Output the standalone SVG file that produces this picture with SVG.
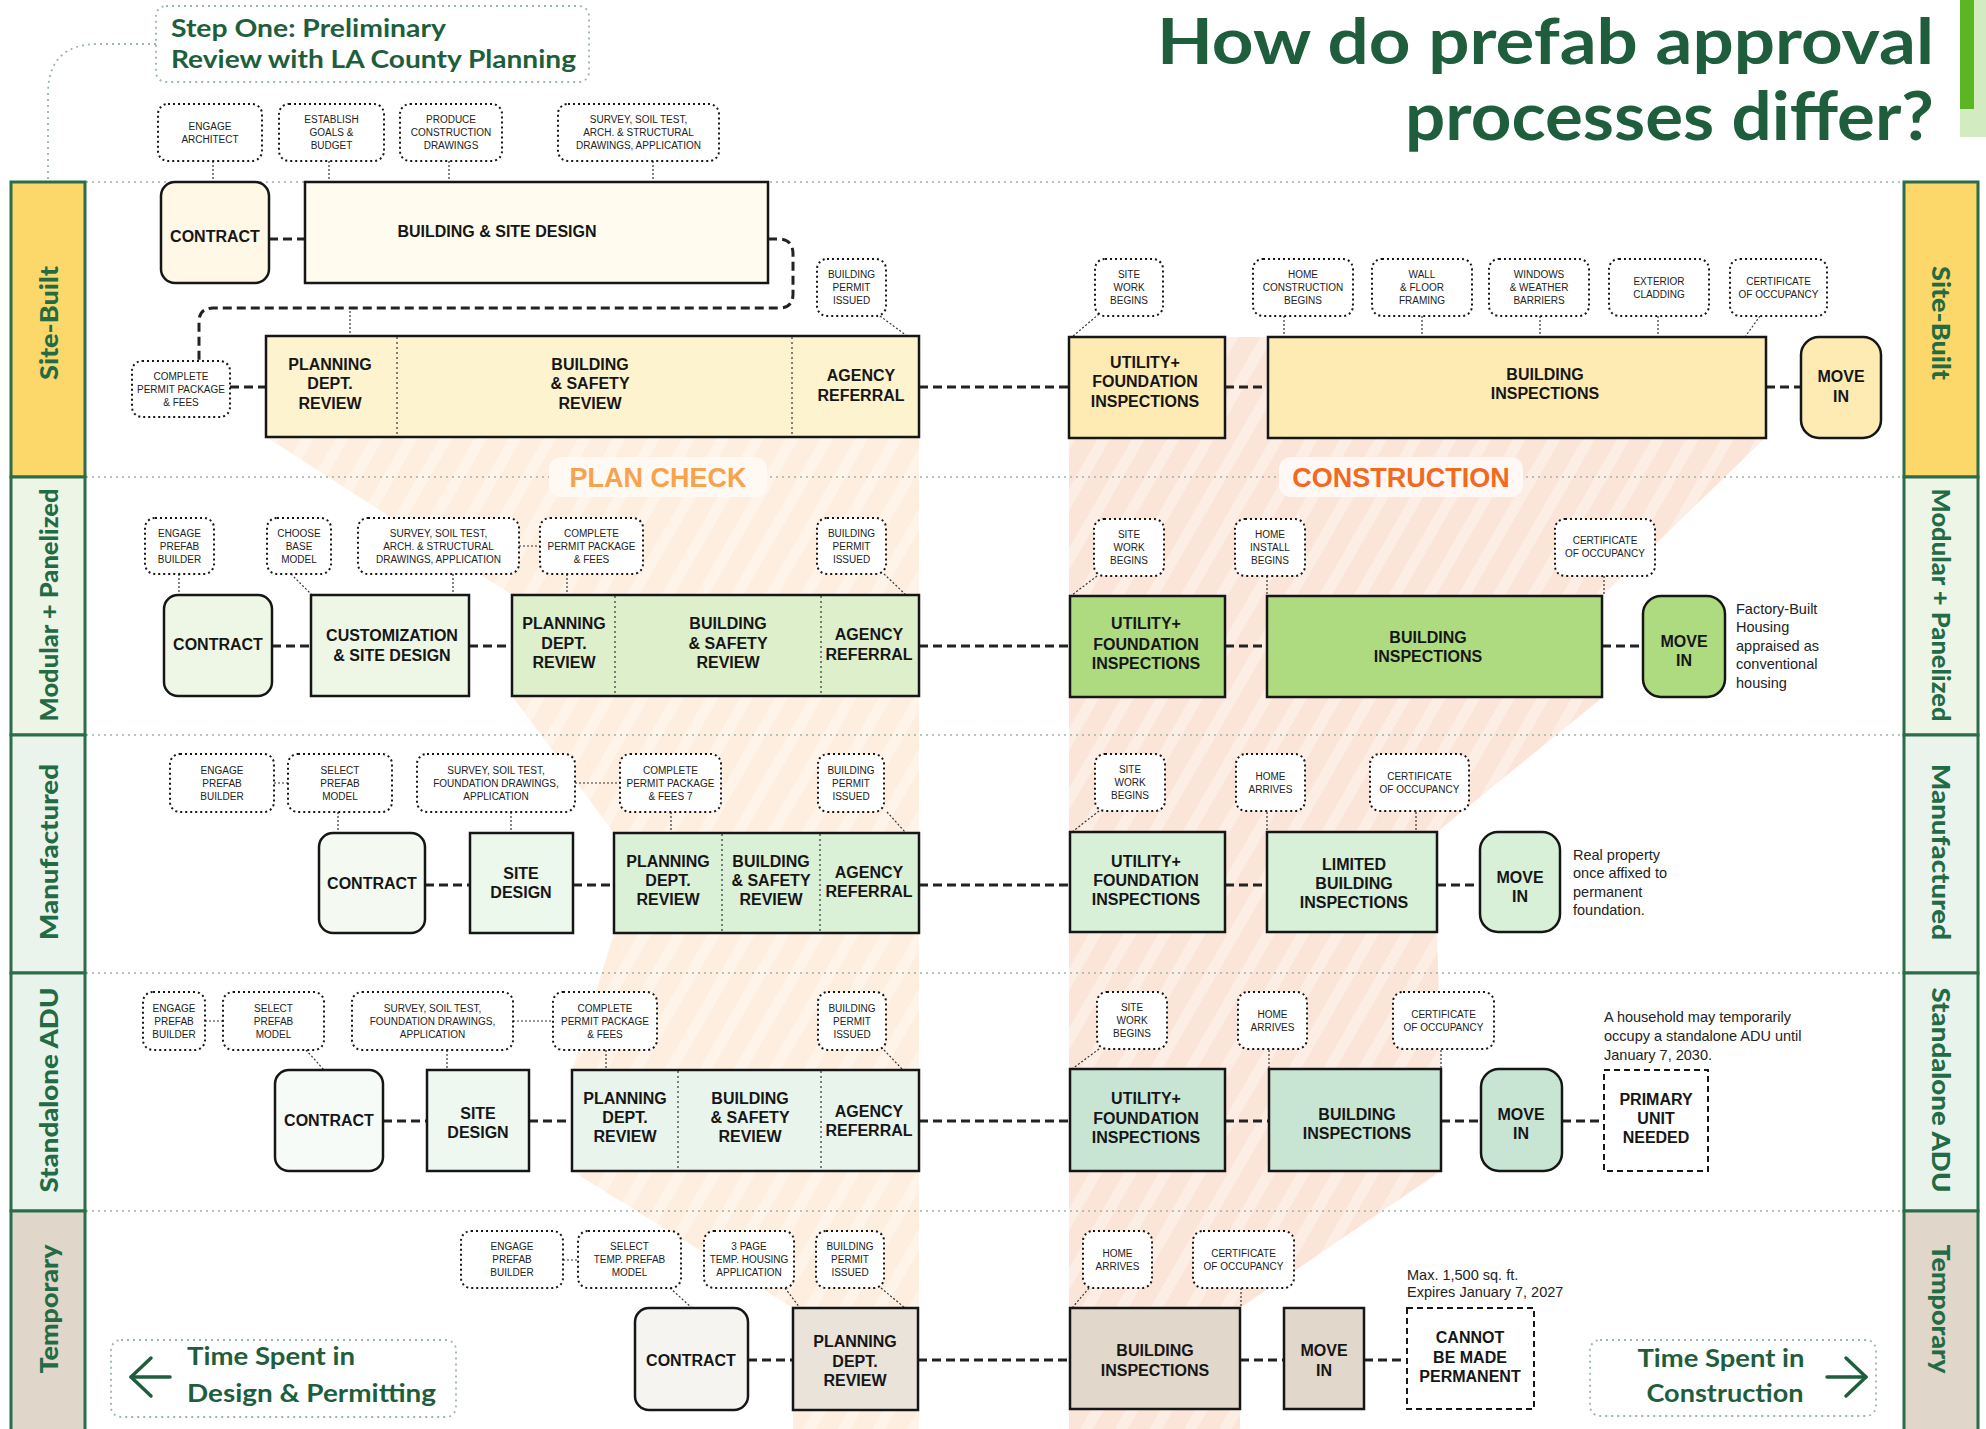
<svg xmlns="http://www.w3.org/2000/svg" width="1986" height="1429" viewBox="0 0 1986 1429">
<defs>
<style>
.sep{fill:none;stroke:#9DB5A7;stroke-width:1.5;stroke-dasharray:2 4}
.bx{stroke:#161616;stroke-width:2.5}
.nt{fill:#fff;stroke:#161616;stroke-width:2;stroke-dasharray:2 3}
.dv{stroke:#333;stroke-width:1.2;stroke-dasharray:2 3}
.dsh{fill:#fff;stroke:#161616;stroke-width:2;stroke-dasharray:6 4}
.fl{fill:none;stroke:#222;stroke-width:3;stroke-dasharray:9 5}
.tk{fill:none;stroke:#333;stroke-width:1.2;stroke-dasharray:2 2}
.t{font-family:"Liberation Sans",Arial,sans-serif;font-weight:bold;font-size:16px;fill:#161616;text-anchor:middle}
.n{font-family:"Liberation Sans",Arial,sans-serif;font-size:10px;fill:#222;text-anchor:middle}
.s{font-family:"Liberation Sans",Arial,sans-serif;font-size:14.5px;fill:#222}
.h{font-family:Lato,"Noto Sans",sans-serif;font-weight:bold;fill:#1F5E3C}
.lb{font-family:Lato,"Noto Sans",sans-serif;font-weight:900;font-size:24px;fill:#236B45;text-anchor:middle;dominant-baseline:central}
.band{stroke:#2B6C49;stroke-width:3}
.gb{fill:none;stroke:#9DB5A7;stroke-width:1.8;stroke-dasharray:2 4}
.arr{fill:none;stroke:#1F5E3C;stroke-width:3.5;stroke-linecap:round;stroke-linejoin:round}
.phase{font-family:"Liberation Sans",Arial,sans-serif;font-weight:bold;font-size:27px;text-anchor:middle}
</style>
<pattern id="pcPat" width="30" height="30" patternUnits="userSpaceOnUse" patternTransform="rotate(30)">
<rect width="30" height="30" fill="#FDEEDF"/><rect width="11" height="30" fill="#FEF4EA"/>
</pattern>
<pattern id="coPat" width="30" height="30" patternUnits="userSpaceOnUse" patternTransform="rotate(30)">
<rect width="30" height="30" fill="#FBE5D9"/><rect width="11" height="30" fill="#FCEDE5"/>
</pattern>
</defs>
<rect width="1986" height="1429" fill="#fff"/>

<g id="phases">
<polygon points="266,336 919,336 919,1429 793,1429 793,1308 572,1171 572,1070 614,933 614,833 512,696 512,595 266,437" fill="url(#pcPat)"/>
<polygon points="1069,337 1766,337 1766,437 1603,595 1603,697 1437,832 1437,932 1441,1070 1441,1171 1240,1308 1240,1429 1069,1429" fill="url(#coPat)"/>
</g>

<g id="separators">
<line class="sep" x1="86" y1="182" x2="1904" y2="182"/>
<line class="sep" x1="86" y1="477" x2="1904" y2="477"/>
<line class="sep" x1="86" y1="735" x2="1904" y2="735"/>
<line class="sep" x1="86" y1="973" x2="1904" y2="973"/>
<line class="sep" x1="86" y1="1211" x2="1904" y2="1211"/>
</g>

<g id="phase-labels">
<rect x="549" y="457" width="218" height="40" rx="12" fill="#FFF9F3"/>
<text class="phase" x="658" y="487" fill="#F7A24C">PLAN CHECK</text>
<rect x="1279" y="457" width="244" height="40" rx="12" fill="#FFF8F4"/>
<text class="phase" x="1401" y="487" fill="#F26A1F">CONSTRUCTION</text>
</g>

<g id="title">
<text class="h" x="1934" y="64" font-size="64" text-anchor="end" textLength="777" lengthAdjust="spacingAndGlyphs">How do prefab approval</text>
<text class="h" x="1934" y="140" font-size="66" text-anchor="end" textLength="529" lengthAdjust="spacingAndGlyphs">processes differ?</text>
<rect x="1960" y="0" width="26" height="137" fill="#D3EBC0"/>
<rect x="1960" y="0" width="14" height="109" fill="#5CB522"/>
</g>

<g id="step-one">
<rect class="gb" x="156" y="6" width="433" height="76" rx="10"/>
<text class="h" x="171" y="37" font-size="25" textLength="275" lengthAdjust="spacingAndGlyphs">Step One: Preliminary</text>
<text class="h" x="171" y="68" font-size="25" textLength="405" lengthAdjust="spacingAndGlyphs">Review with LA County Planning</text>
</g>

<g id="connectors">
<path class="gb" d="M156,44 H98 Q48,44 48,94 V182"/>
<line class="fl" x1="269" y1="239" x2="305" y2="239"/>
<path class="fl" d="M768,239 H778 Q793,239 793,254 V294 Q793,308 779,308 H213 Q199,308 199,322 V361"/>
<line class="fl" x1="230" y1="387" x2="266" y2="387"/>
<line class="fl" x1="919" y1="387" x2="1069" y2="387"/>
<line class="fl" x1="1225" y1="387" x2="1268" y2="387"/>
<line class="fl" x1="1766" y1="387" x2="1801" y2="387"/>
<line class="tk" x1="213" y1="161" x2="213" y2="182"/>
<line class="tk" x1="329" y1="161" x2="329" y2="182"/>
<line class="tk" x1="449" y1="161" x2="449" y2="182"/>
<line class="tk" x1="653" y1="161" x2="653" y2="182"/>
<line class="tk" x1="350" y1="311" x2="350" y2="336"/>
<line class="tk" x1="880" y1="316" x2="907" y2="336"/>
<line class="tk" x1="1099" y1="314" x2="1072" y2="337"/>
<line class="tk" x1="1284" y1="316" x2="1284" y2="337"/>
<line class="tk" x1="1422" y1="316" x2="1422" y2="337"/>
<line class="tk" x1="1540" y1="316" x2="1540" y2="337"/>
<line class="tk" x1="1658" y1="316" x2="1658" y2="337"/>
<line class="tk" x1="1760" y1="316" x2="1745" y2="337"/>
<line class="fl" x1="272" y1="646" x2="311" y2="646"/>
<line class="fl" x1="469" y1="646" x2="512" y2="646"/>
<line class="fl" x1="919" y1="646" x2="1070" y2="646"/>
<line class="fl" x1="1225" y1="646" x2="1267" y2="646"/>
<line class="fl" x1="1602" y1="646" x2="1643" y2="646"/>
<line class="tk" x1="179" y1="574" x2="179" y2="595"/>
<line class="tk" x1="291" y1="574" x2="312" y2="595"/>
<line class="tk" x1="453" y1="574" x2="453" y2="595"/>
<line class="tk" x1="567" y1="574" x2="567" y2="595"/>
<line class="tk" x1="519" y1="546" x2="540" y2="546"/>
<line class="tk" x1="884" y1="574" x2="906" y2="595"/>
<line class="tk" x1="1097" y1="576" x2="1072" y2="595"/>
<line class="tk" x1="1267" y1="576" x2="1267" y2="595"/>
<line class="tk" x1="1604" y1="576" x2="1604" y2="595"/>
<line class="fl" x1="425" y1="885" x2="470" y2="885"/>
<line class="fl" x1="573" y1="885" x2="614" y2="885"/>
<line class="fl" x1="919" y1="885" x2="1070" y2="885"/>
<line class="fl" x1="1225" y1="885" x2="1267" y2="885"/>
<line class="fl" x1="1437" y1="885" x2="1480" y2="885"/>
<line class="tk" x1="274" y1="783" x2="288" y2="783"/>
<line class="tk" x1="338" y1="812" x2="338" y2="833"/>
<line class="tk" x1="511" y1="812" x2="511" y2="833"/>
<line class="tk" x1="575" y1="783" x2="620" y2="783"/>
<line class="tk" x1="671" y1="812" x2="671" y2="833"/>
<line class="tk" x1="887" y1="812" x2="906" y2="833"/>
<line class="tk" x1="1099" y1="811" x2="1072" y2="832"/>
<line class="tk" x1="1267" y1="812" x2="1267" y2="833"/>
<line class="tk" x1="1416" y1="812" x2="1416" y2="833"/>
<line class="fl" x1="383" y1="1121" x2="427" y2="1121"/>
<line class="fl" x1="529" y1="1121" x2="572" y2="1121"/>
<line class="fl" x1="919" y1="1121" x2="1070" y2="1121"/>
<line class="fl" x1="1225" y1="1121" x2="1269" y2="1121"/>
<line class="fl" x1="1441" y1="1121" x2="1481" y2="1121"/>
<line class="fl" x1="1562" y1="1121" x2="1604" y2="1121"/>
<line class="tk" x1="205" y1="1021" x2="223" y2="1021"/>
<line class="tk" x1="306" y1="1050" x2="324" y2="1070"/>
<line class="tk" x1="447" y1="1050" x2="447" y2="1070"/>
<line class="tk" x1="513" y1="1021" x2="553" y2="1021"/>
<line class="tk" x1="606" y1="1050" x2="606" y2="1070"/>
<line class="tk" x1="884" y1="1050" x2="903" y2="1070"/>
<line class="tk" x1="1099" y1="1049" x2="1072" y2="1069"/>
<line class="tk" x1="1269" y1="1050" x2="1269" y2="1070"/>
<line class="tk" x1="1441" y1="1050" x2="1441" y2="1070"/>
<line class="fl" x1="748" y1="1360" x2="793" y2="1360"/>
<line class="fl" x1="918" y1="1360" x2="1070" y2="1360"/>
<line class="fl" x1="1240" y1="1360" x2="1284" y2="1360"/>
<line class="fl" x1="1364" y1="1360" x2="1407" y2="1360"/>
<line class="tk" x1="563" y1="1260" x2="578" y2="1260"/>
<line class="tk" x1="670" y1="1288" x2="692" y2="1308"/>
<line class="tk" x1="785" y1="1288" x2="800" y2="1308"/>
<line class="tk" x1="881" y1="1288" x2="905" y2="1308"/>
<line class="tk" x1="1089" y1="1288" x2="1072" y2="1308"/>
<line class="tk" x1="1241" y1="1288" x2="1241" y2="1308"/>
</g>

<g id="sb-n-engage"><rect class="nt" x="158" y="104" width="104" height="57" rx="10"/><text class="n"><tspan x="210" y="129.5">ENGAGE</tspan><tspan x="210" y="142.5">ARCHITECT</tspan></text></g>
<g id="sb-n-goals"><rect class="nt" x="279" y="104" width="105" height="57" rx="10"/><text class="n"><tspan x="331.5" y="123">ESTABLISH</tspan><tspan x="331.5" y="136">GOALS &amp;</tspan><tspan x="331.5" y="149">BUDGET</tspan></text></g>
<g id="sb-n-drawings"><rect class="nt" x="400" y="104" width="102" height="57" rx="10"/><text class="n"><tspan x="451" y="123">PRODUCE</tspan><tspan x="451" y="136">CONSTRUCTION</tspan><tspan x="451" y="149">DRAWINGS</tspan></text></g>
<g id="sb-n-survey"><rect class="nt" x="558" y="104" width="161" height="57" rx="10"/><text class="n"><tspan x="638.5" y="123">SURVEY, SOIL TEST,</tspan><tspan x="638.5" y="136">ARCH. &amp; STRUCTURAL</tspan><tspan x="638.5" y="149">DRAWINGS,  APPLICATION</tspan></text></g>
<g id="sb-contract"><rect class="bx" x="161" y="182" width="108" height="101" rx="14" fill="#FFF8E6"/><text class="t" x="215" y="242">CONTRACT</text></g>
<g id="sb-design"><rect class="bx" x="305" y="182" width="463" height="101" fill="#FFFBEE"/><text class="t" x="497" y="237">BUILDING &amp; SITE DESIGN</text></g>
<g id="sb-n-permit"><rect class="nt" x="132" y="361" width="98" height="56" rx="10"/><text class="n"><tspan x="181" y="379.5">COMPLETE</tspan><tspan x="181" y="392.5">PERMIT PACKAGE</tspan><tspan x="181" y="405.5">&amp; FEES</tspan></text></g>
<g id="sb-review"><rect class="bx" x="266" y="336" width="653" height="101" fill="#FEF3CF"/>
<line class="dv" x1="397" y1="337" x2="397" y2="436"/><line class="dv" x1="792" y1="337" x2="792" y2="436"/>
<text class="t"><tspan x="330" y="370">PLANNING</tspan><tspan x="330" y="389">DEPT.</tspan><tspan x="330" y="409">REVIEW</tspan></text>
<text class="t"><tspan x="590" y="370">BUILDING</tspan><tspan x="590" y="389">&amp; SAFETY</tspan><tspan x="590" y="409">REVIEW</tspan></text>
<text class="t"><tspan x="861" y="381">AGENCY</tspan><tspan x="861" y="401">REFERRAL</tspan></text></g>
<g id="sb-n-issued"><rect class="nt" x="817" y="259" width="69" height="57" rx="10"/><text class="n"><tspan x="851.5" y="278">BUILDING</tspan><tspan x="851.5" y="291">PERMIT</tspan><tspan x="851.5" y="304">ISSUED</tspan></text></g>
<g id="sb-n-site"><rect class="nt" x="1095" y="259" width="68" height="57" rx="10"/><text class="n"><tspan x="1129" y="278">SITE</tspan><tspan x="1129" y="291">WORK</tspan><tspan x="1129" y="304">BEGINS</tspan></text></g>
<g id="sb-n-home"><rect class="nt" x="1253" y="259" width="100" height="57" rx="10"/><text class="n"><tspan x="1303" y="278">HOME</tspan><tspan x="1303" y="291">CONSTRUCTION</tspan><tspan x="1303" y="304">BEGINS</tspan></text></g>
<g id="sb-n-wall"><rect class="nt" x="1372" y="259" width="100" height="57" rx="10"/><text class="n"><tspan x="1422" y="278">WALL</tspan><tspan x="1422" y="291">&amp; FLOOR</tspan><tspan x="1422" y="304">FRAMING</tspan></text></g>
<g id="sb-n-windows"><rect class="nt" x="1489" y="259" width="100" height="57" rx="10"/><text class="n"><tspan x="1539" y="278">WINDOWS</tspan><tspan x="1539" y="291">&amp; WEATHER</tspan><tspan x="1539" y="304">BARRIERS</tspan></text></g>
<g id="sb-n-cladding"><rect class="nt" x="1609" y="259" width="100" height="57" rx="10"/><text class="n"><tspan x="1659" y="284.5">EXTERIOR</tspan><tspan x="1659" y="297.5">CLADDING</tspan></text></g>
<g id="sb-n-cert"><rect class="nt" x="1730" y="259" width="97" height="57" rx="10"/><text class="n"><tspan x="1778.5" y="284.5">CERTIFICATE</tspan><tspan x="1778.5" y="297.5">OF OCCUPANCY</tspan></text></g>
<g id="sb-utility"><rect class="bx" x="1069" y="337" width="156" height="101" fill="#FEEBB3"/><text class="t"><tspan x="1145" y="368">UTILITY+</tspan><tspan x="1145" y="387">FOUNDATION</tspan><tspan x="1145" y="407">INSPECTIONS</tspan></text></g>
<g id="sb-inspections"><rect class="bx" x="1268" y="337" width="498" height="101" fill="#FEEBB3"/><text class="t"><tspan x="1545" y="380">BUILDING</tspan><tspan x="1545" y="399">INSPECTIONS</tspan></text></g>
<g id="sb-movein"><rect class="bx" x="1801" y="337" width="80" height="101" rx="18" fill="#FEEBB3"/><text class="t"><tspan x="1841" y="382">MOVE</tspan><tspan x="1841" y="402">IN</tspan></text></g>

<g id="mp-n-engage"><rect class="nt" x="145" y="518" width="69" height="56" rx="10"/><text class="n"><tspan x="179.5" y="536.5">ENGAGE</tspan><tspan x="179.5" y="549.5">PREFAB</tspan><tspan x="179.5" y="562.5">BUILDER</tspan></text></g>
<g id="mp-n-choose"><rect class="nt" x="267" y="518" width="64" height="56" rx="10"/><text class="n"><tspan x="299" y="536.5">CHOOSE</tspan><tspan x="299" y="549.5">BASE</tspan><tspan x="299" y="562.5">MODEL</tspan></text></g>
<g id="mp-n-survey"><rect class="nt" x="358" y="518" width="161" height="56" rx="10"/><text class="n"><tspan x="438.5" y="536.5">SURVEY, SOIL TEST,</tspan><tspan x="438.5" y="549.5">ARCH. &amp; STRUCTURAL</tspan><tspan x="438.5" y="562.5">DRAWINGS,  APPLICATION</tspan></text></g>
<g id="mp-n-permit"><rect class="nt" x="540" y="518" width="103" height="56" rx="10"/><text class="n"><tspan x="591.5" y="536.5">COMPLETE</tspan><tspan x="591.5" y="549.5">PERMIT PACKAGE</tspan><tspan x="591.5" y="562.5">&amp; FEES</tspan></text></g>
<g id="mp-n-issued"><rect class="nt" x="817" y="518" width="69" height="56" rx="10"/><text class="n"><tspan x="851.5" y="536.5">BUILDING</tspan><tspan x="851.5" y="549.5">PERMIT</tspan><tspan x="851.5" y="562.5">ISSUED</tspan></text></g>
<g id="mp-n-site"><rect class="nt" x="1094" y="519" width="70" height="57" rx="10"/><text class="n"><tspan x="1129" y="537.5">SITE</tspan><tspan x="1129" y="550.5">WORK</tspan><tspan x="1129" y="563.5">BEGINS</tspan></text></g>
<g id="mp-n-home"><rect class="nt" x="1235" y="519" width="70" height="57" rx="10"/><text class="n"><tspan x="1270" y="537.5">HOME</tspan><tspan x="1270" y="550.5">INSTALL</tspan><tspan x="1270" y="563.5">BEGINS</tspan></text></g>
<g id="mp-n-cert"><rect class="nt" x="1555" y="519" width="100" height="57" rx="10"/><text class="n"><tspan x="1605" y="544">CERTIFICATE</tspan><tspan x="1605" y="557">OF OCCUPANCY</tspan></text></g>
<g id="mp-contract"><rect class="bx" x="164" y="595" width="108" height="101" rx="14" fill="#EEF6E5"/><text class="t" x="218" y="650">CONTRACT</text></g>
<g id="mp-custom"><rect class="bx" x="311" y="595" width="158" height="101" fill="#EEF6E5"/><text class="t"><tspan x="392" y="641">CUSTOMIZATION</tspan><tspan x="392" y="661">&amp; SITE DESIGN</tspan></text></g>
<g id="mp-review"><rect class="bx" x="512" y="595" width="407" height="101" fill="#DDEFCB"/>
<line class="dv" x1="615" y1="596" x2="615" y2="695"/><line class="dv" x1="821" y1="596" x2="821" y2="695"/>
<text class="t"><tspan x="564" y="629">PLANNING</tspan><tspan x="564" y="649">DEPT.</tspan><tspan x="564" y="668">REVIEW</tspan></text>
<text class="t"><tspan x="728" y="629">BUILDING</tspan><tspan x="728" y="649">&amp; SAFETY</tspan><tspan x="728" y="668">REVIEW</tspan></text>
<text class="t"><tspan x="869" y="640">AGENCY</tspan><tspan x="869" y="660">REFERRAL</tspan></text></g>
<g id="mp-utility"><rect class="bx" x="1070" y="596" width="155" height="101" fill="#AEDB80"/><text class="t"><tspan x="1146" y="629">UTILITY+</tspan><tspan x="1146" y="650">FOUNDATION</tspan><tspan x="1146" y="669">INSPECTIONS</tspan></text></g>
<g id="mp-inspections"><rect class="bx" x="1267" y="596" width="335" height="101" fill="#AEDB80"/><text class="t"><tspan x="1428" y="643">BUILDING</tspan><tspan x="1428" y="662">INSPECTIONS</tspan></text></g>
<g id="mp-movein"><rect class="bx" x="1643" y="596" width="82" height="101" rx="18" fill="#AEDB80"/><text class="t"><tspan x="1684" y="647">MOVE</tspan><tspan x="1684" y="666">IN</tspan></text></g>
<g id="mp-note"><text class="s"><tspan x="1736" y="614">Factory-Built</tspan><tspan x="1736" y="632">Housing</tspan><tspan x="1736" y="651">appraised as</tspan><tspan x="1736" y="669">conventional</tspan><tspan x="1736" y="688">housing</tspan></text></g>

<g id="mf-n-engage"><rect class="nt" x="170" y="754" width="104" height="58" rx="10"/><text class="n"><tspan x="222" y="773.5">ENGAGE</tspan><tspan x="222" y="786.5">PREFAB</tspan><tspan x="222" y="799.5">BUILDER</tspan></text></g>
<g id="mf-n-select"><rect class="nt" x="288" y="754" width="104" height="58" rx="10"/><text class="n"><tspan x="340" y="773.5">SELECT</tspan><tspan x="340" y="786.5">PREFAB</tspan><tspan x="340" y="799.5">MODEL</tspan></text></g>
<g id="mf-n-survey"><rect class="nt" x="417" y="754" width="158" height="58" rx="10"/><text class="n"><tspan x="496" y="773.5">SURVEY, SOIL TEST,</tspan><tspan x="496" y="786.5">FOUNDATION DRAWINGS,</tspan><tspan x="496" y="799.5">APPLICATION</tspan></text></g>
<g id="mf-n-permit"><rect class="nt" x="620" y="754" width="101" height="58" rx="10"/><text class="n"><tspan x="670.5" y="773.5">COMPLETE</tspan><tspan x="670.5" y="786.5">PERMIT PACKAGE</tspan><tspan x="670.5" y="799.5">&amp; FEES 7</tspan></text></g>
<g id="mf-n-issued"><rect class="nt" x="818" y="754" width="66" height="58" rx="10"/><text class="n"><tspan x="851" y="773.5">BUILDING</tspan><tspan x="851" y="786.5">PERMIT</tspan><tspan x="851" y="799.5">ISSUED</tspan></text></g>
<g id="mf-n-site"><rect class="nt" x="1095" y="754" width="70" height="57" rx="10"/><text class="n"><tspan x="1130" y="773">SITE</tspan><tspan x="1130" y="786">WORK</tspan><tspan x="1130" y="799">BEGINS</tspan></text></g>
<g id="mf-n-home"><rect class="nt" x="1236" y="754" width="69" height="57" rx="10"/><text class="n"><tspan x="1270.5" y="779.5">HOME</tspan><tspan x="1270.5" y="792.5">ARRIVES</tspan></text></g>
<g id="mf-n-cert"><rect class="nt" x="1370" y="754" width="99" height="57" rx="10"/><text class="n"><tspan x="1419.5" y="779.5">CERTIFICATE</tspan><tspan x="1419.5" y="792.5">OF OCCUPANCY</tspan></text></g>
<g id="mf-contract"><rect class="bx" x="319" y="833" width="106" height="100" rx="14" fill="#F4FAF2"/><text class="t" x="372" y="889">CONTRACT</text></g>
<g id="mf-site"><rect class="bx" x="470" y="833" width="103" height="100" fill="#EDF8EC"/><text class="t"><tspan x="521" y="879">SITE</tspan><tspan x="521" y="898">DESIGN</tspan></text></g>
<g id="mf-review"><rect class="bx" x="614" y="833" width="305" height="100" fill="#DAF0D7"/>
<line class="dv" x1="722" y1="834" x2="722" y2="932"/><line class="dv" x1="820" y1="834" x2="820" y2="932"/>
<text class="t"><tspan x="668" y="867">PLANNING</tspan><tspan x="668" y="886">DEPT.</tspan><tspan x="668" y="905">REVIEW</tspan></text>
<text class="t"><tspan x="771" y="867">BUILDING</tspan><tspan x="771" y="886">&amp; SAFETY</tspan><tspan x="771" y="905">REVIEW</tspan></text>
<text class="t"><tspan x="869" y="878">AGENCY</tspan><tspan x="869" y="897">REFERRAL</tspan></text></g>
<g id="mf-utility"><rect class="bx" x="1070" y="832" width="155" height="100" fill="#D8F0D8"/><text class="t"><tspan x="1146" y="867">UTILITY+</tspan><tspan x="1146" y="886">FOUNDATION</tspan><tspan x="1146" y="905">INSPECTIONS</tspan></text></g>
<g id="mf-inspections"><rect class="bx" x="1267" y="832" width="170" height="100" fill="#D8F0D8"/><text class="t"><tspan x="1354" y="870">LIMITED</tspan><tspan x="1354" y="889">BUILDING</tspan><tspan x="1354" y="908">INSPECTIONS</tspan></text></g>
<g id="mf-movein"><rect class="bx" x="1480" y="832" width="80" height="100" rx="18" fill="#D8F0D8"/><text class="t"><tspan x="1520" y="883">MOVE</tspan><tspan x="1520" y="902">IN</tspan></text></g>
<g id="mf-note"><text class="s"><tspan x="1573" y="860">Real property</tspan><tspan x="1573" y="878">once affixed to</tspan><tspan x="1573" y="897">permanent</tspan><tspan x="1573" y="915">foundation.</tspan></text></g>

<g id="adu-n-engage"><rect class="nt" x="143" y="992" width="62" height="58" rx="10"/><text class="n"><tspan x="174" y="1011.5">ENGAGE</tspan><tspan x="174" y="1024.5">PREFAB</tspan><tspan x="174" y="1037.5">BUILDER</tspan></text></g>
<g id="adu-n-select"><rect class="nt" x="223" y="992" width="101" height="58" rx="10"/><text class="n"><tspan x="273.5" y="1011.5">SELECT</tspan><tspan x="273.5" y="1024.5">PREFAB</tspan><tspan x="273.5" y="1037.5">MODEL</tspan></text></g>
<g id="adu-n-survey"><rect class="nt" x="352" y="992" width="161" height="58" rx="10"/><text class="n"><tspan x="432.5" y="1011.5">SURVEY, SOIL TEST,</tspan><tspan x="432.5" y="1024.5">FOUNDATION DRAWINGS,</tspan><tspan x="432.5" y="1037.5">APPLICATION</tspan></text></g>
<g id="adu-n-permit"><rect class="nt" x="553" y="992" width="104" height="58" rx="10"/><text class="n"><tspan x="605" y="1011.5">COMPLETE</tspan><tspan x="605" y="1024.5">PERMIT PACKAGE</tspan><tspan x="605" y="1037.5">&amp; FEES</tspan></text></g>
<g id="adu-n-issued"><rect class="nt" x="818" y="992" width="68" height="58" rx="10"/><text class="n"><tspan x="852" y="1011.5">BUILDING</tspan><tspan x="852" y="1024.5">PERMIT</tspan><tspan x="852" y="1037.5">ISSUED</tspan></text></g>
<g id="adu-n-site"><rect class="nt" x="1097" y="992" width="70" height="57" rx="10"/><text class="n"><tspan x="1132" y="1011">SITE</tspan><tspan x="1132" y="1024">WORK</tspan><tspan x="1132" y="1037">BEGINS</tspan></text></g>
<g id="adu-n-home"><rect class="nt" x="1238" y="992" width="69" height="57" rx="10"/><text class="n"><tspan x="1272.5" y="1017.5">HOME</tspan><tspan x="1272.5" y="1030.5">ARRIVES</tspan></text></g>
<g id="adu-n-cert"><rect class="nt" x="1393" y="992" width="101" height="57" rx="10"/><text class="n"><tspan x="1443.5" y="1017.5">CERTIFICATE</tspan><tspan x="1443.5" y="1030.5">OF OCCUPANCY</tspan></text></g>
<g id="adu-contract"><rect class="bx" x="275" y="1070" width="108" height="101" rx="14" fill="#F7FBF8"/><text class="t" x="329" y="1126">CONTRACT</text></g>
<g id="adu-site"><rect class="bx" x="427" y="1070" width="102" height="101" fill="#EFF7F1"/><text class="t"><tspan x="478" y="1119">SITE</tspan><tspan x="478" y="1138">DESIGN</tspan></text></g>
<g id="adu-review"><rect class="bx" x="572" y="1070" width="347" height="101" fill="#E8F4EC"/>
<line class="dv" x1="678" y1="1071" x2="678" y2="1170"/><line class="dv" x1="821" y1="1071" x2="821" y2="1170"/>
<text class="t"><tspan x="625" y="1104">PLANNING</tspan><tspan x="625" y="1123">DEPT.</tspan><tspan x="625" y="1142">REVIEW</tspan></text>
<text class="t"><tspan x="750" y="1104">BUILDING</tspan><tspan x="750" y="1123">&amp; SAFETY</tspan><tspan x="750" y="1142">REVIEW</tspan></text>
<text class="t"><tspan x="869" y="1117">AGENCY</tspan><tspan x="869" y="1136">REFERRAL</tspan></text></g>
<g id="adu-utility"><rect class="bx" x="1070" y="1069" width="155" height="102" fill="#C8E5D3"/><text class="t"><tspan x="1146" y="1104">UTILITY+</tspan><tspan x="1146" y="1124">FOUNDATION</tspan><tspan x="1146" y="1143">INSPECTIONS</tspan></text></g>
<g id="adu-inspections"><rect class="bx" x="1269" y="1069" width="172" height="102" fill="#C8E5D3"/><text class="t"><tspan x="1357" y="1120">BUILDING</tspan><tspan x="1357" y="1139">INSPECTIONS</tspan></text></g>
<g id="adu-movein"><rect class="bx" x="1481" y="1069" width="81" height="102" rx="18" fill="#C8E5D3"/><text class="t"><tspan x="1521" y="1120">MOVE</tspan><tspan x="1521" y="1139">IN</tspan></text></g>
<g id="adu-primary"><rect class="dsh" x="1604" y="1070" width="104" height="101"/><text class="t"><tspan x="1656" y="1105">PRIMARY</tspan><tspan x="1656" y="1124">UNIT</tspan><tspan x="1656" y="1143">NEEDED</tspan></text></g>
<g id="adu-note"><text class="s"><tspan x="1604" y="1022">A household may temporarily</tspan><tspan x="1604" y="1041">occupy a standalone ADU until</tspan><tspan x="1604" y="1060">January 7, 2030.</tspan></text></g>

<g id="tmp-n-engage"><rect class="nt" x="461" y="1231" width="102" height="57" rx="10"/><text class="n"><tspan x="512" y="1250">ENGAGE</tspan><tspan x="512" y="1263">PREFAB</tspan><tspan x="512" y="1276">BUILDER</tspan></text></g>
<g id="tmp-n-select"><rect class="nt" x="578" y="1231" width="103" height="57" rx="10"/><text class="n"><tspan x="629.5" y="1250">SELECT</tspan><tspan x="629.5" y="1263">TEMP. PREFAB</tspan><tspan x="629.5" y="1276">MODEL</tspan></text></g>
<g id="tmp-n-app"><rect class="nt" x="704" y="1231" width="90" height="57" rx="10"/><text class="n"><tspan x="749" y="1250">3 PAGE</tspan><tspan x="749" y="1263">TEMP. HOUSING</tspan><tspan x="749" y="1276">APPLICATION</tspan></text></g>
<g id="tmp-n-issued"><rect class="nt" x="816" y="1231" width="68" height="57" rx="10"/><text class="n"><tspan x="850" y="1250">BUILDING</tspan><tspan x="850" y="1263">PERMIT</tspan><tspan x="850" y="1276">ISSUED</tspan></text></g>
<g id="tmp-n-home"><rect class="nt" x="1083" y="1231" width="69" height="57" rx="10"/><text class="n"><tspan x="1117.5" y="1256.5">HOME</tspan><tspan x="1117.5" y="1269.5">ARRIVES</tspan></text></g>
<g id="tmp-n-cert"><rect class="nt" x="1193" y="1231" width="101" height="57" rx="10"/><text class="n"><tspan x="1243.5" y="1256.5">CERTIFICATE</tspan><tspan x="1243.5" y="1269.5">OF OCCUPANCY</tspan></text></g>
<g id="tmp-contract"><rect class="bx" x="635" y="1308" width="113" height="102" rx="14" fill="#F6F4F0"/><text class="t" x="691" y="1366">CONTRACT</text></g>
<g id="tmp-review"><rect class="bx" x="793" y="1308" width="125" height="102" fill="#EAE3DA"/><text class="t"><tspan x="855" y="1347">PLANNING</tspan><tspan x="855" y="1367">DEPT.</tspan><tspan x="855" y="1386">REVIEW</tspan></text></g>
<g id="tmp-inspections"><rect class="bx" x="1070" y="1308" width="170" height="101" fill="#E1D7CA"/><text class="t"><tspan x="1155" y="1356">BUILDING</tspan><tspan x="1155" y="1376">INSPECTIONS</tspan></text></g>
<g id="tmp-movein"><rect class="bx" x="1284" y="1308" width="80" height="101" fill="#E1D7CA"/><text class="t"><tspan x="1324" y="1356">MOVE</tspan><tspan x="1324" y="1376">IN</tspan></text></g>
<g id="tmp-cannot"><rect class="dsh" x="1407" y="1308" width="127" height="101"/><text class="t"><tspan x="1470" y="1343">CANNOT</tspan><tspan x="1470" y="1363">BE MADE</tspan><tspan x="1470" y="1382">PERMANENT</tspan></text></g>
<g id="tmp-note"><text class="s"><tspan x="1407" y="1280">Max. 1,500 sq. ft.</tspan><tspan x="1407" y="1297">Expires January 7, 2027</tspan></text></g>

<g id="time-design">
<rect class="gb" x="111" y="1340" width="345" height="77" rx="10"/>
<polyline class="arr" points="151,1358 131,1377 151,1396"/><line class="arr" x1="131" y1="1377" x2="170" y2="1377"/>
<text class="h" x="187" y="1365" font-size="25" textLength="168" lengthAdjust="spacingAndGlyphs">Time Spent in</text>
<text class="h" x="187" y="1402" font-size="25" textLength="249" lengthAdjust="spacingAndGlyphs">Design &amp; Permitting</text>
</g>
<g id="time-construction">
<rect class="gb" x="1590" y="1340" width="286" height="76" rx="10"/>
<polyline class="arr" points="1846,1358 1866,1377 1846,1396"/><line class="arr" x1="1827" y1="1377" x2="1866" y2="1377"/>
<text class="h" x="1721" y="1367" font-size="25" text-anchor="middle" textLength="167" lengthAdjust="spacingAndGlyphs">Time Spent in</text>
<text class="h" x="1725" y="1402" font-size="25" text-anchor="middle" textLength="157" lengthAdjust="spacingAndGlyphs">Construction</text>
</g>

<g id="band-left">
<rect class="band" x="11" y="182" width="74" height="295" fill="#FCD86A"/>
<rect class="band" x="11" y="477" width="74" height="258" fill="#EDF5E7"/>
<rect class="band" x="11" y="735" width="74" height="238" fill="#EBF4EC"/>
<rect class="band" x="11" y="973" width="74" height="238" fill="#E8F3EC"/>
<rect class="band" x="11" y="1211" width="74" height="230" fill="#E0D6C9"/>
<text class="lb" x="48" y="323" transform="rotate(-90 48 323)" textLength="114" lengthAdjust="spacingAndGlyphs">Site-Built</text>
<text class="lb" x="48" y="605" transform="rotate(-90 48 605)" textLength="233" lengthAdjust="spacingAndGlyphs">Modular + Panelized</text>
<text class="lb" x="48" y="852" transform="rotate(-90 48 852)" textLength="176" lengthAdjust="spacingAndGlyphs">Manufactured</text>
<text class="lb" x="48" y="1090" transform="rotate(-90 48 1090)" textLength="205" lengthAdjust="spacingAndGlyphs">Standalone ADU</text>
<text class="lb" x="48" y="1309" transform="rotate(-90 48 1309)" textLength="129" lengthAdjust="spacingAndGlyphs">Temporary</text>
</g>
<g id="band-right">
<rect class="band" x="1904" y="182" width="74" height="295" fill="#FCD86A"/>
<rect class="band" x="1904" y="477" width="74" height="258" fill="#EDF5E7"/>
<rect class="band" x="1904" y="735" width="74" height="238" fill="#EBF4EC"/>
<rect class="band" x="1904" y="973" width="74" height="238" fill="#E8F3EC"/>
<rect class="band" x="1904" y="1211" width="74" height="230" fill="#E0D6C9"/>
<text class="lb" x="1941" y="323" transform="rotate(90 1941 323)" textLength="114" lengthAdjust="spacingAndGlyphs">Site-Built</text>
<text class="lb" x="1941" y="605" transform="rotate(90 1941 605)" textLength="233" lengthAdjust="spacingAndGlyphs">Modular + Panelized</text>
<text class="lb" x="1941" y="852" transform="rotate(90 1941 852)" textLength="176" lengthAdjust="spacingAndGlyphs">Manufactured</text>
<text class="lb" x="1941" y="1090" transform="rotate(90 1941 1090)" textLength="205" lengthAdjust="spacingAndGlyphs">Standalone ADU</text>
<text class="lb" x="1941" y="1309" transform="rotate(90 1941 1309)" textLength="129" lengthAdjust="spacingAndGlyphs">Temporary</text>
</g>
</svg>
